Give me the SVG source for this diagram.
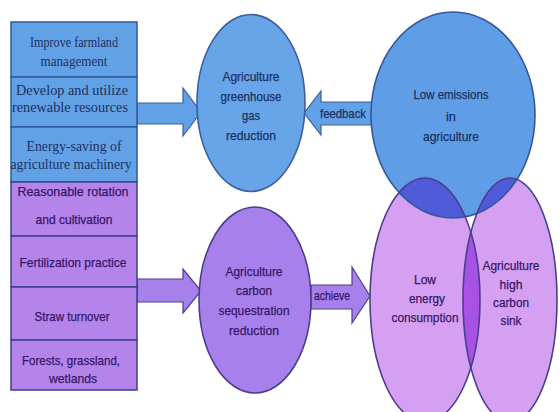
<svg xmlns="http://www.w3.org/2000/svg" width="560" height="412" viewBox="0 0 560 412">
<defs>
<style>
.bbox{fill:#63a1e7;stroke:#2f5a9a;stroke-width:1.5}
.pbox{fill:#b584ea;stroke:#3d3f8c;stroke-width:1.5}
.ser{font-family:"Liberation Serif","Times New Roman",serif;font-size:14px;fill:#1c3160;text-anchor:middle}
.san{font-family:"Liberation Sans",Arial,sans-serif;font-size:13px;text-anchor:middle;stroke-width:0.25}
.bt{fill:#1c3160;stroke:#1c3160}
.pt{fill:#351866;stroke:#351866}
.barrow{fill:#63a1e7;stroke:#3d5f9a;stroke-width:1.2}
.parrow{fill:#a880ec;stroke:#4a3f8f;stroke-width:1.2}
.edge{fill:none;stroke-width:1.6}
</style>
<clipPath id="cBig"><ellipse cx="453" cy="115" rx="82" ry="103"/></clipPath>
<clipPath id="cLL"><ellipse cx="425" cy="300" rx="55" ry="122"/></clipPath>
</defs>
<rect width="560" height="412" fill="#ffffff"/>

<g id="connectors">
<polygon class="barrow" points="137,103 183,103 183,88 201,112 183,136 183,124 137,124"/>
<polygon class="parrow" points="137,279 183,279 183,269 201,291 183,313 183,302 137,302"/>
<polygon class="barrow" points="380,102 321,102 321,91 304,113 321,135 321,125 380,125"/>
<text class="san bt" x="343" y="118" textLength="46" lengthAdjust="spacingAndGlyphs">feedback</text>
<polygon class="parrow" points="311,285 352,285 352,267 370,296 352,323 352,309 311,309"/>
<text class="san pt" x="332" y="300" textLength="36" lengthAdjust="spacingAndGlyphs">achieve</text>
</g>

<g id="measures">
<rect class="bbox" x="11" y="22" width="126" height="55"/>
<rect class="bbox" x="11" y="77" width="126" height="50"/>
<rect class="bbox" x="11" y="127" width="126" height="55"/>
<rect class="pbox" x="11" y="182" width="126" height="54"/>
<rect class="pbox" x="11" y="236" width="126" height="51"/>
<rect class="pbox" x="11" y="287" width="126" height="53"/>
<rect class="pbox" x="11" y="340" width="126" height="50"/>
<text class="ser" x="74" y="47" textLength="88" lengthAdjust="spacingAndGlyphs">Improve farmland</text>
<text class="ser" x="74" y="66" textLength="67" lengthAdjust="spacingAndGlyphs">management</text>
<text class="ser" x="72" y="95" textLength="112" lengthAdjust="spacingAndGlyphs">Develop and utilize</text>
<text class="ser" x="70" y="112" textLength="116" lengthAdjust="spacingAndGlyphs">renewable resources</text>
<text class="ser" x="74" y="151" textLength="95" lengthAdjust="spacingAndGlyphs">Energy-saving of</text>
<text class="ser" x="71" y="169" textLength="121" lengthAdjust="spacingAndGlyphs">agriculture machinery</text>
<text class="san pt" x="73" y="196" textLength="111" lengthAdjust="spacingAndGlyphs">Reasonable rotation</text>
<text class="san pt" x="74" y="224" textLength="77" lengthAdjust="spacingAndGlyphs">and cultivation</text>
<text class="san pt" x="73" y="267" textLength="107" lengthAdjust="spacingAndGlyphs">Fertilization practice</text>
<text class="san pt" x="72" y="321" textLength="75" lengthAdjust="spacingAndGlyphs">Straw turnover</text>
<text class="san pt" x="71" y="365" textLength="98" lengthAdjust="spacingAndGlyphs">Forests, grassland,</text>
<text class="san pt" x="73" y="383" textLength="48" lengthAdjust="spacingAndGlyphs">wetlands</text>
</g>

<g id="greenhouse">
<ellipse cx="251" cy="103" rx="54" ry="88.5" fill="#67a4e8" stroke="#3d5f9a" stroke-width="1.6"/>
<text class="san bt" x="251" y="81" textLength="57" lengthAdjust="spacingAndGlyphs">Agriculture</text>
<text class="san bt" x="251" y="101" textLength="61" lengthAdjust="spacingAndGlyphs">greenhouse</text>
<text class="san bt" x="251" y="120" textLength="18" lengthAdjust="spacingAndGlyphs">gas</text>
<text class="san bt" x="251" y="140" textLength="50" lengthAdjust="spacingAndGlyphs">reduction</text>
</g>

<g id="sequestration">
<ellipse cx="255" cy="300" rx="56" ry="93" fill="#a880ec" stroke="#4a3f8f" stroke-width="1.6"/>
<text class="san pt" x="254" y="276" textLength="57" lengthAdjust="spacingAndGlyphs">Agriculture</text>
<text class="san pt" x="254" y="295" textLength="36" lengthAdjust="spacingAndGlyphs">carbon</text>
<text class="san pt" x="254" y="315" textLength="71" lengthAdjust="spacingAndGlyphs">sequestration</text>
<text class="san pt" x="254" y="335" textLength="50" lengthAdjust="spacingAndGlyphs">reduction</text>
</g>

<g id="venn">
<ellipse cx="453" cy="115" rx="82" ry="103" fill="#5f9ee6"/>
<ellipse cx="425" cy="300" rx="55" ry="122" fill="#d6a0f2"/>
<ellipse cx="510" cy="300" rx="47" ry="122" fill="#d6a0f2"/>
<ellipse cx="425" cy="300" rx="55" ry="122" fill="#4f5bd8" clip-path="url(#cBig)"/>
<ellipse cx="510" cy="300" rx="47" ry="122" fill="#4f5bd8" clip-path="url(#cBig)"/>
<ellipse cx="510" cy="300" rx="47" ry="122" fill="#a752e4" clip-path="url(#cLL)"/>
<ellipse class="edge" cx="453" cy="115" rx="82" ry="103" stroke="#34589a"/>
<ellipse class="edge" cx="425" cy="300" rx="55" ry="122" stroke="#4a3f8f"/>
<ellipse class="edge" cx="510" cy="300" rx="47" ry="122" stroke="#4a3f8f"/>
</g>

<g id="low-emissions">
<text class="san bt" x="451" y="99" textLength="75" lengthAdjust="spacingAndGlyphs">Low emissions</text>
<text class="san bt" x="451" y="121" textLength="10" lengthAdjust="spacingAndGlyphs">in</text>
<text class="san bt" x="451" y="141" textLength="56" lengthAdjust="spacingAndGlyphs">agriculture</text>
</g>

<g id="low-energy">
<text class="san pt" x="425" y="284" textLength="22" lengthAdjust="spacingAndGlyphs">Low</text>
<text class="san pt" x="427" y="303" textLength="36" lengthAdjust="spacingAndGlyphs">energy</text>
<text class="san pt" x="425" y="322" textLength="67" lengthAdjust="spacingAndGlyphs">consumption</text>
</g>

<g id="carbon-sink">
<text class="san pt" x="511" y="270" textLength="57" lengthAdjust="spacingAndGlyphs">Agriculture</text>
<text class="san pt" x="511" y="289" textLength="23" lengthAdjust="spacingAndGlyphs">high</text>
<text class="san pt" x="511" y="307" textLength="36" lengthAdjust="spacingAndGlyphs">carbon</text>
<text class="san pt" x="511" y="325" textLength="21" lengthAdjust="spacingAndGlyphs">sink</text>
</g>
</svg>
